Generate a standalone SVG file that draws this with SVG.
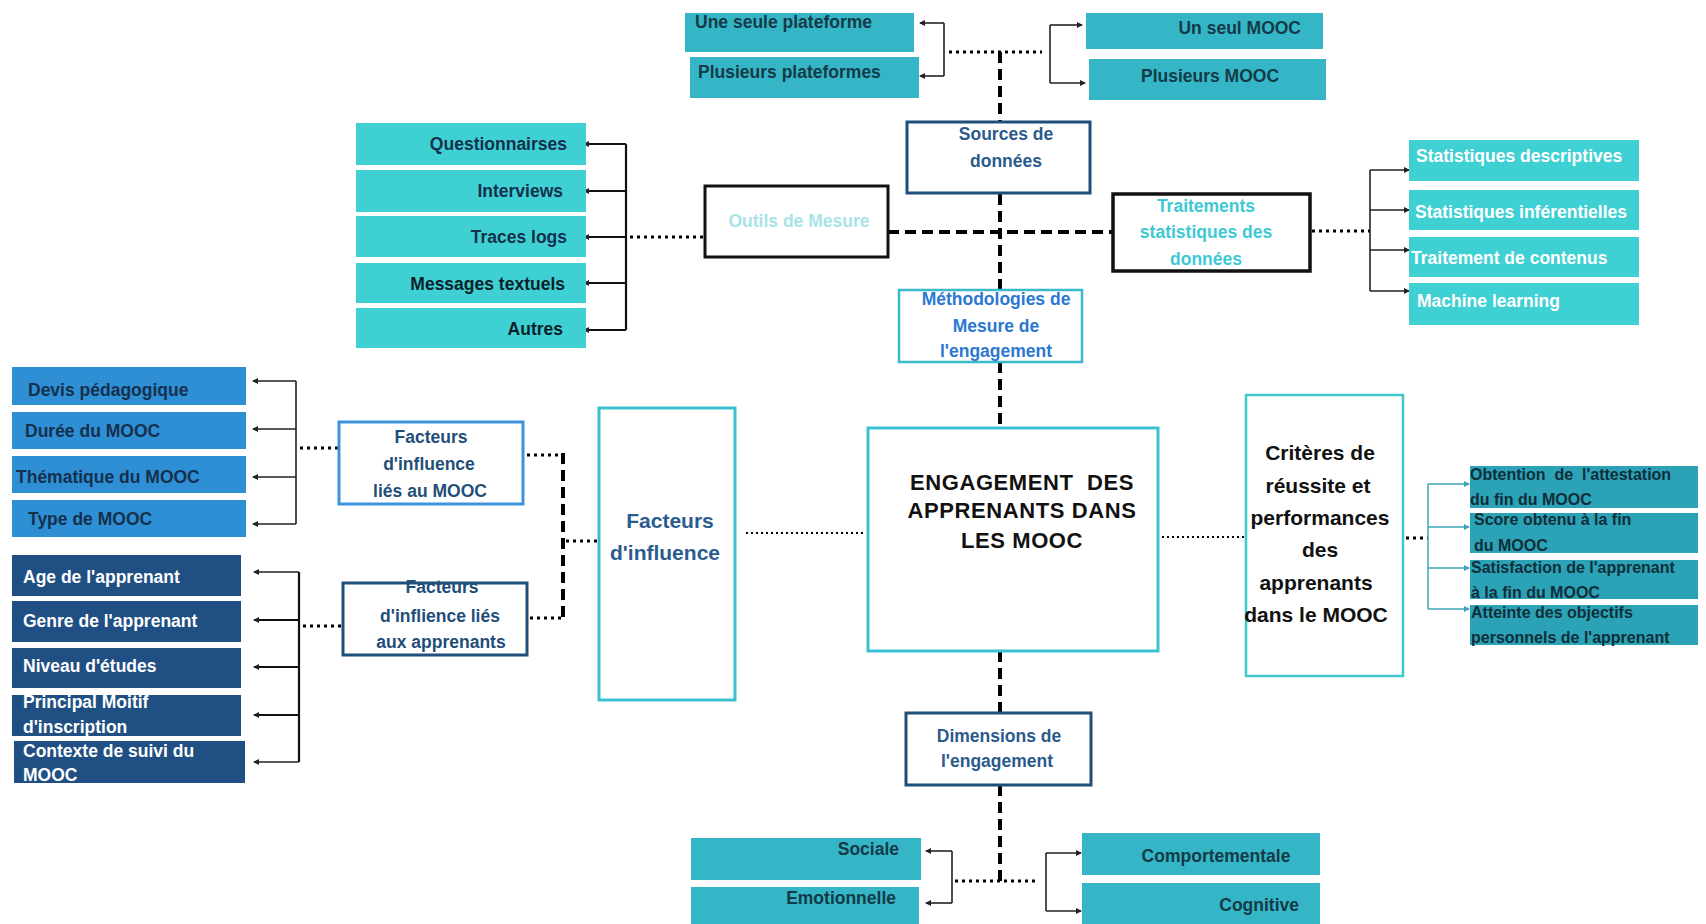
<svg xmlns="http://www.w3.org/2000/svg" width="1706" height="924" viewBox="0 0 1706 924">
<style>
text{font-family:"Liberation Sans",Arial,sans-serif;font-weight:bold}
.t18{font-size:17.5px}
.t16{font-size:16px}
.dk{fill:#143a48}
.wh{fill:#ffffff}
.nv{fill:#14304d}
.plat{fill:#35b6c6}
.tool{fill:#3fd0d3}
.moocf{fill:#2f8fd5}
.learn{fill:#1f4f83}
.crit{fill:#2ba2b5}
.frame{fill:#ffffff}
.thick{stroke:#000;stroke-width:4;stroke-dasharray:11 6;fill:none}
.dot{stroke:#000;stroke-width:3;stroke-dasharray:3 4;fill:none}
.fine{stroke:#000;stroke-width:2;stroke-dasharray:2 3;fill:none}
.br{stroke:#222;stroke-width:1.6;fill:none}
.brk{stroke:#111;stroke-width:2.2;fill:none}
.brt{stroke:#3aa7b8;stroke-width:1.5;fill:none}
.ar{marker-end:url(#arr)}
.art{marker-end:url(#arrt)}
</style>
<defs>
<marker id="arr" viewBox="0 0 6 6" refX="5" refY="3" markerWidth="6" markerHeight="6" markerUnits="userSpaceOnUse" orient="auto"><path d="M0,0L6,3L0,6z" fill="#222"/></marker>
<marker id="arrt" viewBox="0 0 6 6" refX="5" refY="3" markerWidth="6" markerHeight="6" markerUnits="userSpaceOnUse" orient="auto"><path d="M0,0L6,3L0,6z" fill="#3aa7b8"/></marker>
</defs>
<rect width="1706" height="924" fill="#ffffff"/>

<g id="connectors">
<!-- central vertical spine -->
<path class="thick" d="M1000,52V121M1000,194V290M1000,362V428M1000,651V713M1000,785V881"/>
<path class="thick" d="M888,232H1112"/>
<!-- top brackets -->
<path class="br" d="M944,23V76"/>
<path class="br ar" d="M944,23H920"/>
<path class="br ar" d="M944,76H920"/>
<path class="dot" d="M949,52H1042"/>
<path class="br" d="M1050,25V83"/>
<path class="br ar" d="M1050,25H1082"/>
<path class="br ar" d="M1050,83H1085"/>
<!-- tools bracket -->
<path class="brk" d="M626,144V330"/>
<path class="brk ar" d="M626,144H584"/>
<path class="brk ar" d="M626,191H584"/>
<path class="brk ar" d="M626,237H584"/>
<path class="brk ar" d="M626,283H584"/>
<path class="brk ar" d="M626,330H584"/>
<path class="dot" d="M630,237H704"/>
<!-- stats bracket -->
<path class="dot" d="M1312,231H1370"/>
<path class="br" d="M1370,170V291"/>
<path class="br ar" d="M1370,170H1409"/>
<path class="br ar" d="M1370,210H1409"/>
<path class="br ar" d="M1370,250H1409"/>
<path class="br ar" d="M1370,291H1409"/>
<!-- MOOC factors bracket -->
<path class="br" d="M296,381V524"/>
<path class="br ar" d="M296,381H253"/>
<path class="br ar" d="M296,429H253"/>
<path class="br ar" d="M296,477H253"/>
<path class="br ar" d="M296,524H253"/>
<path class="dot" d="M300,448H339"/>
<!-- learner factors bracket -->
<path class="brk" d="M299,572V762"/>
<path class="br ar" d="M299,572H254"/>
<path class="brk ar" d="M299,620H254"/>
<path class="brk ar" d="M299,667H254"/>
<path class="brk ar" d="M299,715H254"/>
<path class="br ar" d="M299,762H254"/>
<path class="dot" d="M303,626H343"/>
<!-- factors to big factor box -->
<path class="dot" d="M527,455H562"/>
<path class="dot" d="M530,618H562"/>
<path class="thick" d="M563,453V622"/>
<path class="dot" d="M566,541H598"/>
<path class="fine" d="M746,533H866"/>
<!-- engagement to criteria -->
<path class="fine" d="M1162,537H1245"/>
<path class="dot" d="M1406,538H1428"/>
<path class="brt" d="M1428,484V609"/>
<path class="brt art" d="M1428,484H1469"/>
<path class="brt art" d="M1428,527H1469"/>
<path class="brt art" d="M1428,568H1469"/>
<path class="brt art" d="M1428,609H1469"/>
<!-- bottom brackets -->
<path class="br" d="M952,851V903"/>
<path class="br ar" d="M952,851H926"/>
<path class="br ar" d="M952,903H926"/>
<path class="dot" d="M955,881H1036"/>
<path class="br" d="M1046,853V911"/>
<path class="br ar" d="M1046,853H1081"/>
<path class="br ar" d="M1046,911H1081"/>
</g>

<!-- top -->
<g id="une-seule-plateforme"><rect class="plat" x="685" y="13" width="229" height="39"/><text class="t18 dk" x="695" y="28">Une seule plateforme</text></g>
<g id="plusieurs-plateformes"><rect class="plat" x="690" y="57" width="229" height="41"/><text class="t18 dk" x="698" y="78">Plusieurs plateformes</text></g>
<g id="un-seul-mooc"><rect class="plat" x="1086" y="13" width="237" height="36"/><text class="t18 dk" x="1301" y="34" text-anchor="end">Un seul MOOC</text></g>
<g id="plusieurs-mooc"><rect class="plat" x="1089" y="59" width="237" height="41"/><text class="t18 dk" x="1210" y="82" text-anchor="middle">Plusieurs MOOC</text></g>

<g id="sources"><rect class="frame" x="907" y="122" width="183" height="71" stroke="#1f4e79" stroke-width="3"/><text class="t18" fill="#2b5a8c" x="1006" y="140" text-anchor="middle">Sources de</text><text class="t18" fill="#2b5a8c" x="1006" y="167" text-anchor="middle">données</text></g>

<g id="outils"><rect class="frame" x="705" y="186" width="183" height="71" stroke="#111" stroke-width="3"/><text class="t18" fill="#a8e3ea" x="799" y="227" text-anchor="middle">Outils de Mesure</text></g>

<g id="traitements"><rect class="frame" x="1113" y="194" width="197" height="77" stroke="#111" stroke-width="3.5"/><text class="t18" fill="#3ec8d4" x="1206" y="212" text-anchor="middle">Traitements</text><text class="t18" fill="#3ec8d4" x="1206" y="238" text-anchor="middle">statistiques des</text><text class="t18" fill="#3ec8d4" x="1206" y="265" text-anchor="middle">données</text></g>

<g id="methodologies"><rect class="frame" x="899" y="290" width="183" height="72" stroke="#3ab9c9" stroke-width="2.5"/><text class="t18" fill="#2a78d0" x="996" y="305" text-anchor="middle">Méthodologies de</text><text class="t18" fill="#2a78d0" x="996" y="332" text-anchor="middle">Mesure de</text><text class="t18" fill="#2a78d0" x="996" y="357" text-anchor="middle">l'engagement</text></g>

<!-- tools -->
<g id="questionnairses"><rect class="tool" x="356" y="123" width="230" height="42"/><text class="t18 nv" x="567" y="150" text-anchor="end">Questionnairses</text></g>
<g id="interviews"><rect class="tool" x="356" y="170" width="230" height="42"/><text class="t18 nv" x="563" y="197" text-anchor="end">Interviews</text></g>
<g id="traces-logs"><rect class="tool" x="356" y="216" width="230" height="41"/><text class="t18 nv" x="567" y="243" text-anchor="end">Traces logs</text></g>
<g id="messages"><rect class="tool" x="356" y="263" width="230" height="40"/><text class="t18" fill="#0c1f2a" x="565" y="290" text-anchor="end">Messages textuels</text></g>
<g id="autres"><rect class="tool" x="356" y="308" width="230" height="40"/><text class="t18" fill="#0c1f2a" x="563" y="335" text-anchor="end">Autres</text></g>

<!-- stats -->
<g id="stat-desc"><rect class="tool" x="1409" y="140" width="230" height="41"/><text class="t18 wh" x="1416" y="162">Statistiques descriptives</text></g>
<g id="stat-inf"><rect class="tool" x="1409" y="190" width="230" height="40"/><text class="t18 wh" x="1415" y="218">Statistiques inférentielles</text></g>
<g id="contenus"><rect class="tool" x="1409" y="237" width="230" height="40"/><text class="t18 wh" x="1411" y="264">Traitement  de contenus</text></g>
<g id="machine-learning"><rect class="tool" x="1409" y="283" width="230" height="42"/><text class="t18 wh" x="1417" y="307">Machine learning</text></g>

<!-- MOOC factors -->
<g id="devis"><rect class="moocf" x="12" y="367" width="234" height="38"/><text class="t18 nv" x="28" y="396">Devis pédagogique</text></g>
<g id="duree"><rect class="moocf" x="12" y="412" width="234" height="37"/><text class="t18 nv" x="25" y="437">Durée du MOOC</text></g>
<g id="thematique"><rect class="moocf" x="12" y="456" width="234" height="37"/><text class="t18 nv" x="16" y="483">Thématique du MOOC</text></g>
<g id="type"><rect class="moocf" x="12" y="500" width="234" height="37"/><text class="t18 nv" x="28" y="525">Type de MOOC</text></g>

<g id="facteurs-mooc"><rect class="frame" x="339" y="422" width="184" height="82" stroke="#3b93dc" stroke-width="3"/><text class="t18" fill="#1f4e79" x="431" y="443" text-anchor="middle">Facteurs</text><text class="t18" fill="#1f4e79" x="429" y="470" text-anchor="middle">d'influence</text><text class="t18" fill="#1f4e79" x="430" y="497" text-anchor="middle">liés au MOOC</text></g>

<!-- learner factors -->
<g id="age"><rect class="learn" x="12" y="555" width="229" height="41"/><text class="t18 wh" x="23" y="583">Age de l'apprenant</text></g>
<g id="genre"><rect class="learn" x="12" y="601" width="229" height="41"/><text class="t18 wh" x="23" y="627">Genre de l'apprenant</text></g>
<g id="niveau"><rect class="learn" x="12" y="648" width="229" height="40"/><text class="t18 wh" x="23" y="672">Niveau d'études</text></g>
<g id="principal"><rect class="learn" x="12" y="695" width="229" height="41"/><text class="t18 wh" x="23" y="708">Principal Moitif</text><text class="t18 wh" x="23" y="733">d'inscription</text></g>
<g id="contexte"><rect class="learn" x="14" y="741" width="231" height="42"/><text class="t18 wh" x="23" y="757">Contexte de suivi du</text><text class="t18 wh" x="23" y="781">MOOC</text></g>

<g id="facteurs-apprenants"><rect class="frame" x="343" y="583" width="184" height="72" stroke="#1f4e79" stroke-width="3"/><text class="t18" fill="#1f4e79" x="442" y="593" text-anchor="middle">Facteurs</text><text class="t18" fill="#1f4e79" x="440" y="622" text-anchor="middle">d'inflience liés</text><text class="t18" fill="#1f4e79" x="441" y="648" text-anchor="middle">aux apprenants</text></g>

<g id="facteurs-influence"><rect class="frame" x="599" y="408" width="136" height="292" stroke="#3cc0cf" stroke-width="3"/><text font-size="21" fill="#2b5c8f" x="670" y="528" text-anchor="middle">Facteurs</text><text font-size="21" fill="#2b5c8f" x="665" y="560" text-anchor="middle">d'influence</text></g>

<g id="engagement"><rect class="frame" x="868" y="428" width="290" height="223" stroke="#3cc0d2" stroke-width="3"/><text font-size="22" fill="#111" letter-spacing="0.6" x="1022" y="490" text-anchor="middle" xml:space="preserve">ENGAGEMENT  DES</text><text font-size="22" fill="#111" letter-spacing="0.6" x="1022" y="518" text-anchor="middle">APPRENANTS DANS</text><text font-size="22" fill="#111" letter-spacing="0.6" x="1022" y="548" text-anchor="middle">LES MOOC</text></g>

<g id="criteres"><rect class="frame" x="1246" y="395" width="157" height="281" stroke="#40c9cc" stroke-width="2.5"/>
<text font-size="21" fill="#111" x="1320" y="460" text-anchor="middle">Critères de</text>
<text font-size="21" fill="#111" x="1318" y="493" text-anchor="middle">réussite et</text>
<text font-size="21" fill="#111" x="1320" y="525" text-anchor="middle">performances</text>
<text font-size="21" fill="#111" x="1320" y="557" text-anchor="middle">des</text>
<text font-size="21" fill="#111" x="1316" y="590" text-anchor="middle">apprenants</text>
<text font-size="21" fill="#111" x="1316" y="622" text-anchor="middle">dans le MOOC</text></g>

<g id="obtention"><rect class="crit" x="1470" y="466" width="228" height="42"/><text class="t16" fill="#0f2e3a" x="1470" y="480" xml:space="preserve">Obtention  de  l'attestation</text><text class="t16" fill="#0f2e3a" x="1470" y="505">du fin du MOOC</text></g>
<g id="score"><rect class="crit" x="1470" y="513" width="228" height="40"/><text class="t16" fill="#0f2e3a" x="1474" y="525">Score obtenu à la fin</text><text class="t16" fill="#0f2e3a" x="1474" y="551">du MOOC</text></g>
<g id="satisfaction"><rect class="crit" x="1470" y="560" width="228" height="39"/><text class="t16" fill="#0f2e3a" x="1471" y="573">Satisfaction de l'apprenant</text><text class="t16" fill="#0f2e3a" x="1471" y="598">à la fin du MOOC</text></g>
<g id="atteinte"><rect class="crit" x="1470" y="605" width="228" height="40"/><text class="t16" fill="#0f2e3a" x="1471" y="618">Atteinte des objectifs</text><text class="t16" fill="#0f2e3a" x="1471" y="643">personnels de l'apprenant</text></g>

<g id="dimensions"><rect class="frame" x="906" y="713" width="185" height="72" stroke="#1f4e79" stroke-width="3"/><text class="t18" fill="#2b5a8c" x="999" y="742" text-anchor="middle">Dimensions de</text><text class="t18" fill="#2b5a8c" x="997" y="767" text-anchor="middle">l'engagement</text></g>

<g id="sociale"><rect class="plat" x="691" y="838" width="230" height="42"/><text class="t18 dk" x="899" y="855" text-anchor="end">Sociale</text></g>
<g id="emotionnelle"><rect class="plat" x="691" y="887" width="228" height="37"/><text class="t18 dk" x="896" y="904" text-anchor="end">Emotionnelle</text></g>
<g id="comportementale"><rect class="plat" x="1082" y="833" width="238" height="42"/><text class="t18 dk" x="1216" y="862" text-anchor="middle">Comportementale</text></g>
<g id="cognitive"><rect class="plat" x="1082" y="883" width="238" height="41"/><text class="t18 dk" x="1299" y="911" text-anchor="end">Cognitive</text></g>
</svg>
